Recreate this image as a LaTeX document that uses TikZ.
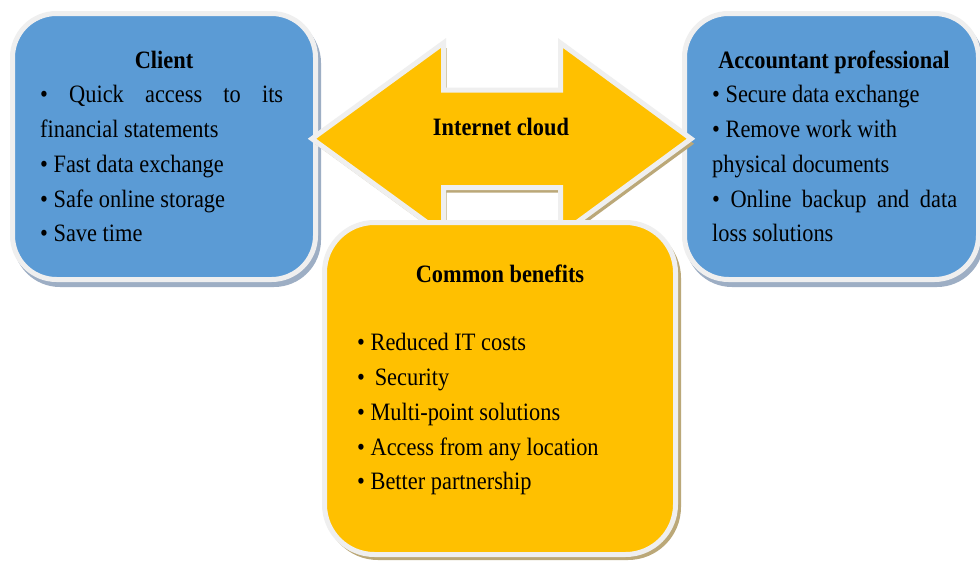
\documentclass[tikz,border=0pt]{standalone}
\usepackage{fontspec}
\setmainfont{Liberation Serif}[FakeStretch=0.895]
\definecolor{boxblue}{HTML}{5B9BD5}
\definecolor{boxyellow}{HTML}{FFC000}
\definecolor{rimwhite}{HTML}{EFEFEF}
\definecolor{shblue}{HTML}{9DAEC4}
\definecolor{shtan}{HTML}{BBA878}
\begin{document}
\begin{tikzpicture}[x=1pt,y=-1pt,
  rim/.style={draw=rimwhite, line width=5pt, line join=miter},
  bluebox/.style={rim, fill=boxblue, rounded corners=44pt},
  yellowbox/.style={rim, fill=boxyellow, rounded corners=50pt},
  bluesh/.style={fill=shblue, rounded corners=47pt},
  tansh/.style={fill=shtan, rounded corners=53pt},
  arrowsh/.style={fill=shtan},
  arrowshape/.style={rim, fill=boxyellow},
  txt/.style={inner sep=0pt, anchor=base west, font=\fontsize{25}{30}\selectfont},
  ttl/.style={inner sep=0pt, anchor=base, font=\fontsize{25}{30}\selectfont\bfseries}]
\useasboundingbox (0,0) rectangle (980,562);
\fill[white] (0,0) rectangle (980,562);
% blue boxes
\fill[bluesh] (13,16) rectangle (321,287);
\fill[bluesh] (685,16) rectangle (984,287);
\path[bluebox] (12.5,13.5) rectangle (315.5,279.5);
\path[bluebox] (684.5,13.5) rectangle (978.5,279.5);
% arrow
\fill[arrowsh, shift={(3,5)}] (312,138.75) -- (443.5,43) -- (443.5,90) -- (560.5,90) -- (560.5,43) -- (691,138.75)
  -- (560.5,234.5) -- (560.5,187.5) -- (443.5,187.5) -- (443.5,234.5) -- cycle;
\path[arrowshape] (312,138.75) -- (443.5,43) -- (443.5,90) -- (560.5,90) -- (560.5,43) -- (691,138.75)
  -- (560.5,234.5) -- (560.5,187.5) -- (443.5,187.5) -- (443.5,234.5) -- cycle;
% yellow box
\fill[tansh] (325,225) rectangle (681,560);
\path[yellowbox] (324.5,222.5) rectangle (675.5,554.5);
% client texts
\node[ttl] (ctitle) at (164,68) {Client};
\node[txt] (c1) at (40,102) {\makebox[243pt][s]{\textbullet\ Quick access to its}};
\node[txt] (c2) at (40,137) {financial statements};
\node[txt] (c3) at (40,172) {\textbullet\ Fast data exchange};
\node[txt] (c4) at (40,207) {\textbullet\ Safe online storage};
\node[txt] (c5) at (40,241) {\textbullet\ Save time};
% accountant texts
\node[ttl] (atitle) at (834,68) {Accountant professional};
\node[txt] (a1) at (712,102) {\textbullet\ Secure data exchange};
\node[txt] (a2) at (712,137) {\textbullet\ Remove work with};
\node[txt] (a3) at (712,172) {physical documents};
\node[txt] (a4) at (712,207) {\makebox[245pt][s]{\textbullet\ Online backup and data}};
\node[txt] (a5) at (712,241) {loss solutions};
% internet cloud
\node[ttl] (cloud) at (501,135) {Internet cloud};
% common benefits
\node[ttl] (btitle) at (500,282) {Common benefits};
\node[txt] (b1) at (357,350) {\textbullet\ Reduced IT costs};
\node[txt] (b2) at (357,385) {\textbullet\ \,Security};
\node[txt] (b3) at (357,420) {\textbullet\ Multi-point solutions};
\node[txt] (b4) at (357,455) {\textbullet\ Access from any location};
\node[txt] (b5) at (357,489) {\textbullet\ Better partnership};
\end{tikzpicture}
\end{document}
